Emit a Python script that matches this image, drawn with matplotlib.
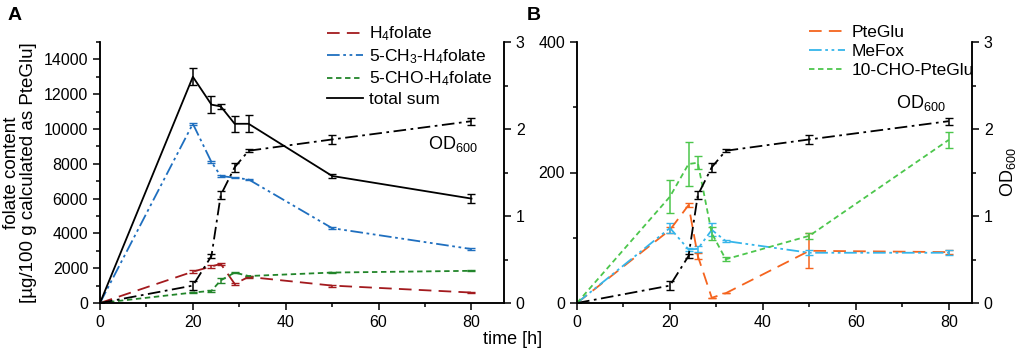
import numpy as np
import matplotlib
matplotlib.use("Agg")
import matplotlib.pyplot as plt
from matplotlib.ticker import MultipleLocator
from matplotlib.lines import Line2D

plt.rcParams['font.family'] = ['Liberation Sans', 'DejaVu Sans']
plt.rcParams['mathtext.fontset'] = 'custom'
plt.rcParams['mathtext.rm'] = 'Liberation Sans'
plt.rcParams['mathtext.it'] = 'Liberation Sans'

# time points [h]
time = [0, 20, 24, 26, 29, 32, 50, 80]

# panel A, folate content [ug/100 g]
h4folate = [0, 1800, 2100, 2250, 1100, 1500, 1000, 600]
h4folate_err = [0, 100, 60, 50, 40, 40, 60, 40]
ch3_h4folate = [0, 10300, 8100, 7300, 7200, 7100, 4300, 3100]
ch3_h4folate_err = [0, 60, 50, 80, 40, 40, 40, 50]
cho_h4folate = [0, 600, 700, 1300, 1750, 1550, 1750, 1850]
cho_h4folate_err = [0, 40, 40, 150, 40, 30, 30, 30]
total_sum = [0, 13000, 11400, 11300, 10300, 10300, 7300, 6000]
total_sum_err = [0, 500, 500, 150, 450, 500, 100, 250]

# OD600 (same culture in both panels)
od600 = [0, 0.2, 0.54, 1.24, 1.56, 1.75, 1.88, 2.09]
od600_err = [0, 0.05, 0.02, 0.05, 0.05, 0.02, 0.05, 0.04]

# panel B, folate content [ug/100 g]
pteglu = [0, 112, 150, 72, 8, 15, 80, 78]
pteglu_err = [0, 4, 3, 5, 0, 0, 27, 3]
mefox = [0, 115, 82, 83, 112, 95, 77, 77]
mefox_err = [0, 8, 3, 5, 10, 2, 4, 4]
cho_pteglu = [0, 163, 213, 215, 107, 67, 103, 250]
cho_pteglu_err = [0, 25, 33, 10, 10, 3, 5, 12]

W, H = 1021, 351
fig = plt.figure(figsize=(W / 100, H / 100), dpi=100)
TICKFS = 11.5

def setup(ax, xmax, ymax, ymaj, ymin):
    ax.set_xlim(0, xmax)
    ax.set_ylim(0, ymax)
    ax.spines['top'].set_visible(False)
    ax.xaxis.set_major_locator(MultipleLocator(20))
    ax.xaxis.set_minor_locator(MultipleLocator(10))
    ax.yaxis.set_major_locator(MultipleLocator(ymaj))
    ax.yaxis.set_minor_locator(MultipleLocator(ymin))
    ax.tick_params(which='major', direction='out', length=5, width=1.1, labelsize=TICKFS)
    ax.tick_params(which='minor', direction='out', length=3, width=1.1)
    for s in ax.spines.values():
        s.set_linewidth(1.1)

def od_axis(ax):
    ax2 = ax.twinx()
    ax2.set_ylim(0, 3)
    ax2.spines['top'].set_visible(False)
    ax2.yaxis.set_major_locator(MultipleLocator(1))
    ax2.yaxis.set_minor_locator(MultipleLocator(0.5))
    ax2.tick_params(which='major', direction='out', length=5, width=1.1, labelsize=TICKFS)
    ax2.tick_params(which='minor', direction='out', length=3, width=1.1)
    for s in ax2.spines.values():
        s.set_linewidth(1.1)
    ax2.errorbar(time, od600, yerr=od600_err, color='black', lw=1.3,
                 dashes=(7, 2.5, 1.5, 2.5), capsize=3, elinewidth=1.1)
    return ax2

def series(ax, y, err, color, dashes, label, handles):
    ax.errorbar(time, y, yerr=err, color=color, lw=1.3, dashes=dashes,
                capsize=3, elinewidth=1.1)
    if dashes is None:
        handles.append(Line2D([], [], color=color, lw=1.3, label=label))
    else:
        handles.append(Line2D([], [], color=color, lw=1.3, dashes=dashes, label=label))

# ---- panel A
axA = fig.add_axes([100 / W, 1 - 303 / H, 404 / W, 261 / H])
setup(axA, 87, 15000, 2000, 1000)
hA = []
series(axA, h4folate, h4folate_err, '#a31a1e', (7, 4), 'H$_4$folate', hA)
series(axA, ch3_h4folate, ch3_h4folate_err, '#1f6fbf', (7, 2, 1.5, 2, 1.5, 2), '5-CH$_3$-H$_4$folate', hA)
series(axA, cho_h4folate, cho_h4folate_err, '#22852a', (3, 2), '5-CHO-H$_4$folate', hA)
series(axA, total_sum, total_sum_err, 'black', None, 'total sum', hA)
axA2 = od_axis(axA)
axA.set_ylabel('folate content\n[µg/100 g calculated as PteGlu]', fontsize=13.5, linespacing=1.05)
axA.yaxis.set_label_coords(-0.155, 0.5)
axA2.text(76, 1.83, 'OD$_{600}$', fontsize=13, ha='center', va='center')
fig.legend(handles=hA, loc='upper left', bbox_to_anchor=(318 / W, 1 - 16 / H), frameon=False,
           fontsize=12.5, handlelength=2.1, handletextpad=0.35, labelspacing=0.22, borderpad=0)
fig.text(483 / W, 1 - 339 / H, 'time [h]', fontsize=13, va='center')
fig.text(8 / W, 1 - 15 / H, 'A', fontsize=14, fontweight='bold', va='center')

# ---- panel B
axB = fig.add_axes([577 / W, 1 - 303 / H, 395 / W, 261 / H])
setup(axB, 85, 400, 200, 100)
hB = []
series(axB, pteglu, pteglu_err, '#f5641e', (7, 4), 'PteGlu', hB)
series(axB, mefox, mefox_err, '#35b5ea', (7, 2, 1.5, 2, 1.5, 2), 'MeFox', hB)
series(axB, cho_pteglu, cho_pteglu_err, '#4cc64c', (3, 2), '10-CHO-PteGlu', hB)
axB2 = od_axis(axB)
axB2.set_ylabel('OD$_{600}$', fontsize=13)
axB2.text(74, 2.3, 'OD$_{600}$', fontsize=13, ha='center', va='center')
fig.legend(handles=hB, loc='upper left', bbox_to_anchor=(800 / W, 1 - 16 / H), frameon=False,
           fontsize=12.5, handlelength=2.1, handletextpad=0.35, labelspacing=0.22, borderpad=0)
fig.text(527 / W, 1 - 15 / H, 'B', fontsize=14, fontweight='bold', va='center')

fig.savefig('out.png', dpi=100)
